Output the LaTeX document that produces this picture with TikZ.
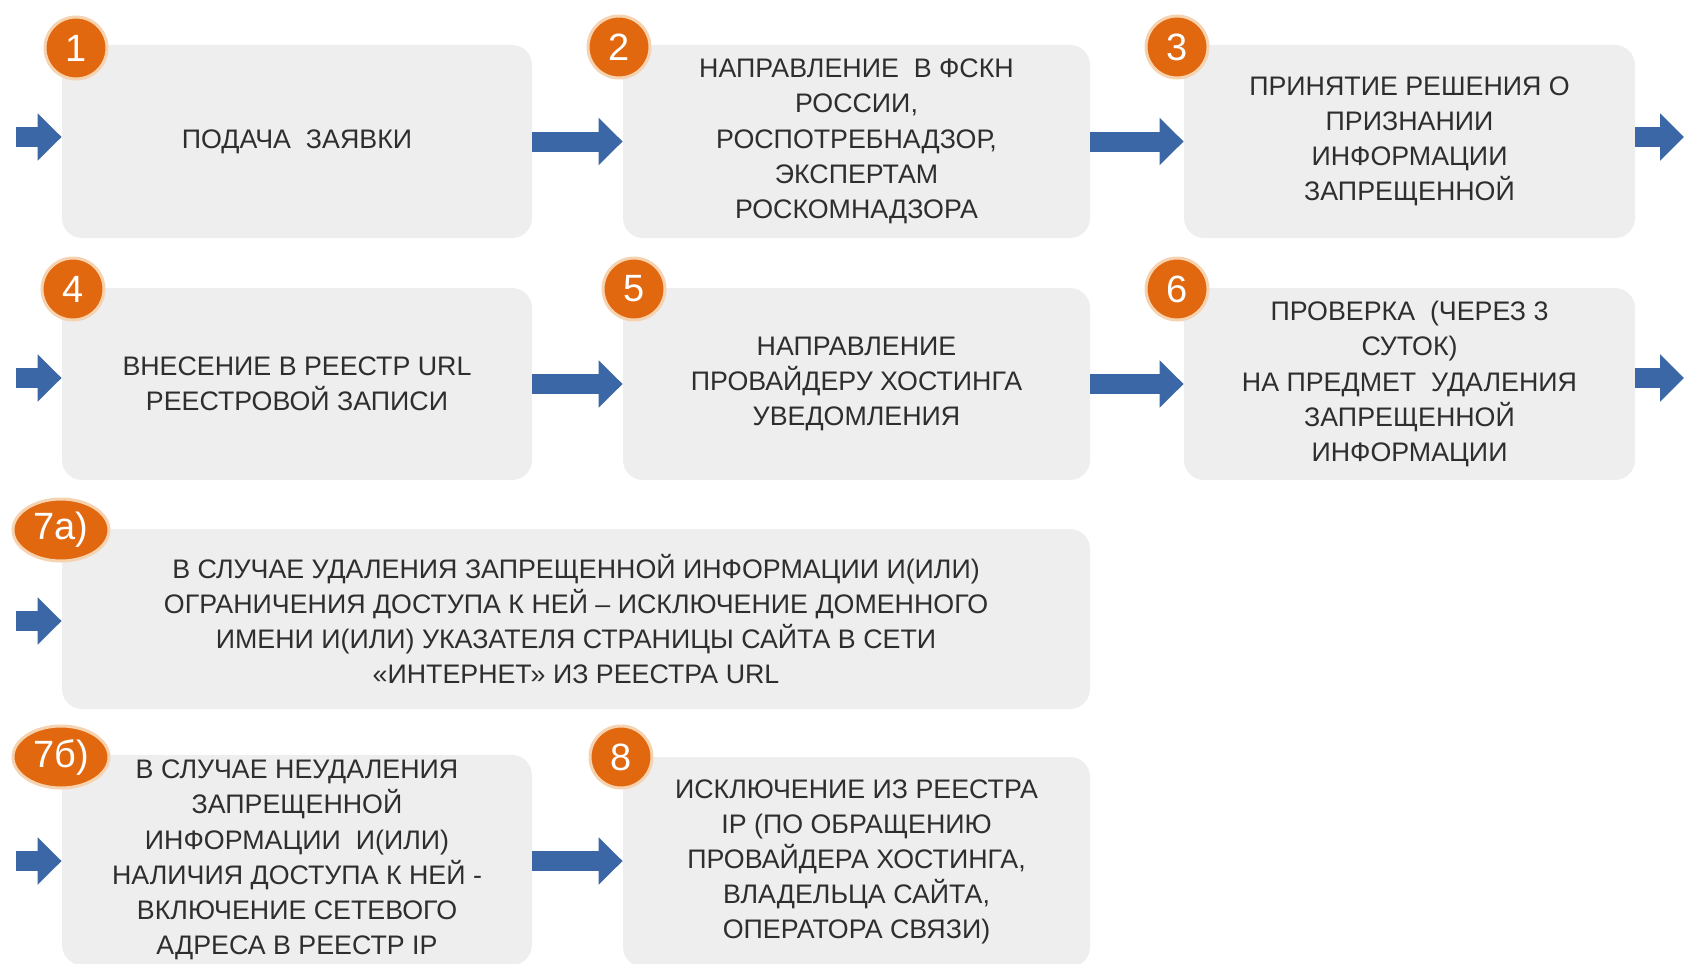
\documentclass[tikz,border=0pt]{standalone}
\usepackage{fontspec}
\setmainfont{Liberation Sans}
\usetikzlibrary{arrows.meta,shapes.geometric}
\definecolor{boxgray}{HTML}{EEEEEE}
\definecolor{badgeorange}{HTML}{E2680F}
\definecolor{badgerim}{HTML}{F6D3B0}
\definecolor{flowblue}{HTML}{3C67A6}
\definecolor{textgray}{HTML}{2E2E2E}
\tikzset{
  stepbox/.style={rectangle, rounded corners=10pt, fill=boxgray, align=center,
    text=textgray, font=\fontsize{13.4}{17.6}\selectfont, inner sep=0pt},
  badge/.style={circle, fill=badgeorange, draw=badgerim, line width=1.5pt,
    text=white, font=\fontsize{19}{19}\selectfont, minimum size=31pt, inner sep=0pt},
  wide badge/.style={badge, ellipse, minimum width=48pt, minimum height=31pt},
  flow/.style={line width=10pt, flowblue, -{Triangle[length=12pt,width=23pt]}}
}
\begin{document}
\begin{tikzpicture}[x=0.5pt, y=-0.5pt]
  \clip (0,0) rectangle (1684,963);
  % row 1
  \node[stepbox, minimum width=235pt, minimum height=96.5pt] (b1) at (297,141.5)
    {ПОДАЧА\ \ ЗАЯВКИ};
  \node[stepbox, minimum width=233.5pt, minimum height=96.5pt] (b2) at (856.5,141.5)
    {НАПРАВЛЕНИЕ\ \ В ФСКН\\ РОССИИ,\\ РОСПОТРЕБНАДЗОР,\\ ЭКСПЕРТАМ\\ РОСКОМНАДЗОРА};
  \node[stepbox, minimum width=225.5pt, minimum height=96.5pt] (b3) at (1409.5,141.5)
    {ПРИНЯТИЕ РЕШЕНИЯ О\\ ПРИЗНАНИИ\\ ИНФОРМАЦИИ\\ ЗАПРЕЩЕННОЙ};
  % row 2
  \node[stepbox, minimum width=235pt, minimum height=96pt] (b4) at (297,384)
    {ВНЕСЕНИЕ В РЕЕСТР URL\\ РЕЕСТРОВОЙ ЗАПИСИ};
  \node[stepbox, minimum width=233.5pt, minimum height=96pt] (b5) at (856.5,384)
    {НАПРАВЛЕНИЕ\\ ПРОВАЙДЕРУ ХОСТИНГА\\ УВЕДОМЛЕНИЯ};
  \node[stepbox, minimum width=225.5pt, minimum height=96pt] (b6) at (1409.5,384)
    {ПРОВЕРКА\ \ (ЧЕРЕЗ 3\\ СУТОК)\\ НА ПРЕДМЕТ\ \ УДАЛЕНИЯ\\ ЗАПРЕЩЕННОЙ\\ ИНФОРМАЦИИ};
  % row 3
  \node[stepbox, minimum width=514pt, minimum height=90pt] (b7a) at (576,619)
    {В СЛУЧАЕ УДАЛЕНИЯ ЗАПРЕЩЕННОЙ ИНФОРМАЦИИ И(ИЛИ)\\
     ОГРАНИЧЕНИЯ ДОСТУПА К НЕЙ – ИСКЛЮЧЕНИЕ ДОМЕННОГО\\
     ИМЕНИ И(ИЛИ) УКАЗАТЕЛЯ СТРАНИЦЫ САЙТА В СЕТИ\\
     «ИНТЕРНЕТ» ИЗ РЕЕСТРА URL};
  % row 4
  \node[stepbox, minimum width=235pt, minimum height=105pt] (b7b) at (297,860)
    {В СЛУЧАЕ НЕУДАЛЕНИЯ\\ ЗАПРЕЩЕННОЙ\\ ИНФОРМАЦИИ\ \ И(ИЛИ)\\
     НАЛИЧИЯ ДОСТУПА К НЕЙ -\\ ВКЛЮЧЕНИЕ СЕТЕВОГО\\ АДРЕСА В РЕЕСТР IP};
  \node[stepbox, minimum width=233.5pt, minimum height=105pt] (b8) at (856.5,862)
    {ИСКЛЮЧЕНИЕ ИЗ РЕЕСТРА\\ IP (ПО ОБРАЩЕНИЮ\\ ПРОВАЙДЕРА ХОСТИНГА,\\
     ВЛАДЕЛЬЦА САЙТА,\\ ОПЕРАТОРА СВЯЗИ)};

  % arrows
  \coordinate (in1) at (16,137);
  \coordinate (in2) at (16,378);
  \coordinate (in3) at (16,621);
  \coordinate (in4) at (16,861);
  \draw[flow] (in1) -- (in1 -| b1.west);
  \draw[flow] (in2) -- (in2 -| b4.west);
  \draw[flow] (in3) -- (in3 -| b7a.west);
  \draw[flow] (in4) -- (in4 -| b7b.west);
  \draw[flow] (b1.east) -- (b2.west);
  \draw[flow] (b2.east) -- (b3.west);
  \draw[flow] (b4.east) -- (b5.west);
  \draw[flow] (b5.east) -- (b6.west);
  \draw[flow] (b7b.east |- in4) -- (b8.west |- in4);
  \coordinate (out1) at (1684,137);
  \coordinate (out2) at (1684,378);
  \draw[flow] (b3.east |- out1) -- (out1);
  \draw[flow] (b6.east |- out2) -- (out2);

  % badges
  \node[badge] (n1) at (76,48) {1};
  \node[badge] (n2) at (619,47) {2};
  \node[badge] (n3) at (1177,47) {3};
  \node[badge] (n4) at (73,289) {4};
  \node[badge] (n5) at (634,289) {5};
  \node[badge] (n6) at (1177,289) {6};
  \node[wide badge] (n7a) at (61,530) {7а)};
  \node[wide badge] (n7b) at (61,757) {7б)};
  \node[badge] (n8) at (621,757) {8};
\end{tikzpicture}
\end{document}
